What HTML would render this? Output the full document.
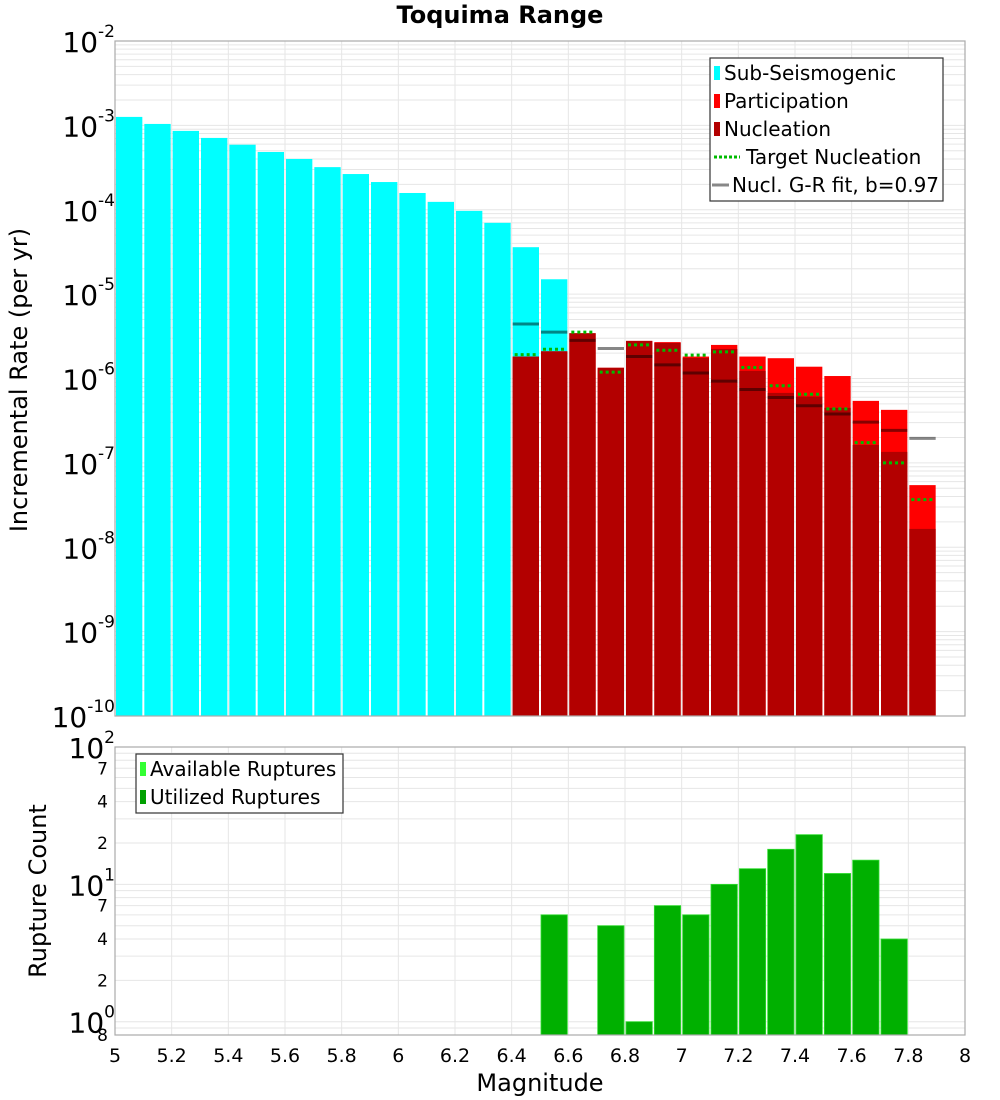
<!DOCTYPE html>
<html><head><meta charset="utf-8"><style>
body{margin:0;background:#fff;}
svg{display:block;font-family:"DejaVu Sans","Liberation Sans",sans-serif;}
</style></head><body>
<svg id="chart" width="1000" height="1100" xmlns="http://www.w3.org/2000/svg"></svg>
<script>
const subMags=[5.05,5.15,5.25,5.35,5.45,5.55,5.65,5.75,5.85,5.95,6.05,6.15,6.25,6.35,6.45,6.55];
const subRates=[1.26e-3,1.04e-3,8.6e-4,7.1e-4,5.9e-4,4.84e-4,4.0e-4,3.2e-4,2.65e-4,2.13e-4,1.58e-4,1.24e-4,9.7e-5,7.0e-5,3.6e-5,1.5e-5];
const faultMags=[6.45,6.55,6.65,6.75,6.85,6.95,7.05,7.15,7.25,7.35,7.45,7.55,7.65,7.75,7.85];
const partRates=[1.82e-6,2.10e-6,3.44e-6,1.34e-6,2.79e-6,2.70e-6,1.82e-6,2.50e-6,1.82e-6,1.74e-6,1.38e-6,1.07e-6,5.43e-7,4.25e-7,5.45e-8];
const nuclRates=[1.82e-6,2.10e-6,3.44e-6,1.34e-6,2.79e-6,2.64e-6,1.75e-6,2.24e-6,1.23e-6,6.75e-7,6.1e-7,4.49e-7,1.63e-7,1.35e-7,1.65e-8];
const targetRates=[1.92e-6,2.22e-6,3.54e-6,1.19e-6,2.50e-6,2.16e-6,1.89e-6,2.07e-6,1.35e-6,8.2e-7,6.5e-7,4.36e-7,1.74e-7,1.0e-7,3.67e-8];
const grMags=[6.45,6.55,6.65,6.75,6.85,6.95,7.05,7.15,7.25,7.35,7.45,7.55,7.65,7.75,7.85];
const grRates=[4.43e-6,3.54e-6,2.83e-6,2.27e-6,1.82e-6,1.45e-6,1.16e-6,9.3e-7,7.4e-7,5.95e-7,4.75e-7,3.8e-7,3.04e-7,2.43e-7,1.95e-7];
const cntMags=[6.55,6.75,6.85,6.95,7.05,7.15,7.25,7.35,7.45,7.55,7.65,7.75];
const availCounts=[6,5,1,7,6,10,13,18,23,12,15,4];
const usedCounts=[6,5,1,7,6,10,13,18,23,12,15,4];
const xTicks=[5,5.2,5.4,5.6,5.8,6,6.2,6.4,6.6,6.8,7,7.2,7.4,7.6,7.8,8];
const xTickLabels=["5","5.2","5.4","5.6","5.8","6","6.2","6.4","6.6","6.8","7","7.2","7.4","7.6","7.8","8"];

const NS="http://www.w3.org/2000/svg";
const svg=document.getElementById('chart');
function el(t,a,p){const e=document.createElementNS(NS,t);for(const k in a)e.setAttribute(k,a[k]);(p||svg).appendChild(e);return e;}
const L=115,R=965;
const x=m=>L+(m-5)/3*(R-L);
const T1=41,B1=716;
const y1=v=>T1+(-2-Math.log10(v))/8*(B1-T1);
const T2=747,B2=1035;
const y2=v=>T2+(2-Math.log10(v))/(2-Math.log10(0.8))*(B2-T2);

function grid(top,bot,yf,lo,hi){
  const g=el('g',{});
  
  
  for(const t of xTicks) el('line',{x1:x(t),x2:x(t),y1:top,y2:bot,stroke:'#e6e6e6','stroke-width':1},g);
  for(let d=lo;d<hi;d++){for(let k=1;k<10;k++){const v=k*Math.pow(10,d);const yy=yf(v);if(yy<top-0.5||yy>bot+0.5)continue;el('line',{x1:L,x2:R,y1:yy,y2:yy,stroke:'#e6e6e6','stroke-width':1},g);}}
}
grid(T1,B1,y1,-10,-2);
grid(T2,B2,y2,-1,2);

const bw=(R-L)/30-2;
subMags.forEach((m,i)=>{const r=el('rect',{x:x(m)-bw/2,y:y1(subRates[i]),width:bw,height:B1-y1(subRates[i]),fill:'#00ffff'});
});
faultMags.forEach((m,i)=>{const r=el('rect',{x:x(m)-bw/2,y:y1(partRates[i]),width:bw,height:B1-y1(partRates[i]),fill:'#ff0000'});

const n=el('rect',{x:x(m)-bw/2,y:y1(nuclRates[i]),width:bw,height:B1-y1(nuclRates[i]),fill:'#b30000'});
});
grMags.forEach((m,i)=>{const l=el('line',{x1:x(m)-bw/2,x2:x(m)+bw/2,y1:y1(grRates[i]),y2:y1(grRates[i]),stroke:'rgba(0,0,0,0.47)','stroke-width':3});
});
faultMags.forEach((m,i)=>{const l=el('line',{x1:x(m)-bw/2+2,x2:x(m)+bw/2-2,y1:y1(targetRates[i]),y2:y1(targetRates[i]),stroke:'#00bb00','stroke-width':3,'stroke-dasharray':'3,3'});
});
cntMags.forEach((m,i)=>{const a=el('rect',{x:x(m)-bw/2,y:y2(availCounts[i]),width:bw,height:B2-y2(availCounts[i]),fill:'#33ff33'});

const u=el('rect',{x:x(m)-bw/2,y:y2(usedCounts[i]),width:bw,height:B2-y2(usedCounts[i]),fill:'#00b000',stroke:'#33dd33','stroke-width':0.8});
});

const f1=el('rect',{x:L,y:T1,width:R-L,height:B1-T1,fill:'none',stroke:'#aaa','stroke-width':1.2});

const f2=el('rect',{x:L,y:T2,width:R-L,height:B2-T2,fill:'none',stroke:'#aaa','stroke-width':1.2});


for(let d=-10;d<=-2;d++){const yy=y1(Math.pow(10,d));
const t=el('text',{x:115,y:yy+11,'text-anchor':'end','font-size':28});

t.textContent='10';const s=el('tspan',{dy:-15,'font-size':17},t);s.textContent=String(d);}
[[100,'2'],[10,'1'],[1,'0']].forEach(([v,e])=>{const yy=y2(v);
const t=el('text',{x:115,y:yy+11,'text-anchor':'end','font-size':28});

t.textContent='10';const s=el('tspan',{dy:-15,'font-size':17},t);s.textContent=e;});
[[70,'7'],[40,'4'],[20,'2'],[7,'7'],[4,'4'],[2,'2'],[0.8,'8']].forEach(([v,l])=>{const yy=y2(v);
const t=el('text',{x:108,y:yy+6,'text-anchor':'end','font-size':17});
t.textContent=l;});
xTicks.forEach((m,i)=>{const t=el('text',{x:x(m),y:1062,'text-anchor':'middle','font-size':19});
t.textContent=xTickLabels[i];});

let t=el('text',{x:500,y:23,'text-anchor':'middle','font-size':24,'font-weight':'bold'});t.textContent='Toquima Range';

t=el('text',{x:540,y:1091,'text-anchor':'middle','font-size':24});t.textContent='Magnitude';

t=el('text',{x:0,y:0,'text-anchor':'middle','font-size':24,transform:'translate(27,380) rotate(-90)'});t.textContent='Incremental Rate (per yr)';

t=el('text',{x:0,y:0,'text-anchor':'middle','font-size':24,transform:'translate(46,891) rotate(-90)'});t.textContent='Rupture Count';


const lg=el('g',{});
el('rect',{x:710,y:58,width:233,height:143,fill:'#fff',stroke:'#333','stroke-width':1.2},lg);
[['#00ffff','Sub-Seismogenic'],['#ff0000','Participation'],['#b30000','Nucleation']].forEach(([c,l],i)=>{const yy=73+i*28;
el('rect',{x:714,y:yy-7,width:6,height:14,fill:c},lg);
const tx=el('text',{x:724,y:yy+7,'font-size':20},lg);tx.textContent=l;
});
el('line',{x1:714,x2:740,y1:157,y2:157,stroke:'#00bb00','stroke-width':3,'stroke-dasharray':'3,2'},lg);
let tx=el('text',{x:746,y:164,'font-size':20},lg);tx.textContent='Target Nucleation';

el('line',{x1:712,x2:729,y1:185,y2:185,stroke:'#888','stroke-width':3},lg);
tx=el('text',{x:732,y:192,'font-size':20},lg);tx.textContent='Nucl. G-R fit, b=0.97';


const lg2=el('g',{});
el('rect',{x:136,y:754,width:207,height:59,fill:'#fff',stroke:'#333','stroke-width':1.2},lg2);
[['#33ff33','Available Ruptures'],['#00a000','Utilized Ruptures']].forEach(([c,l],i)=>{const yy=769+i*28;
el('rect',{x:140,y:yy-7,width:6,height:14,fill:c},lg2);
const tx=el('text',{x:150,y:yy+7,'font-size':20},lg2);tx.textContent=l;
});
</script>
</body></html>
